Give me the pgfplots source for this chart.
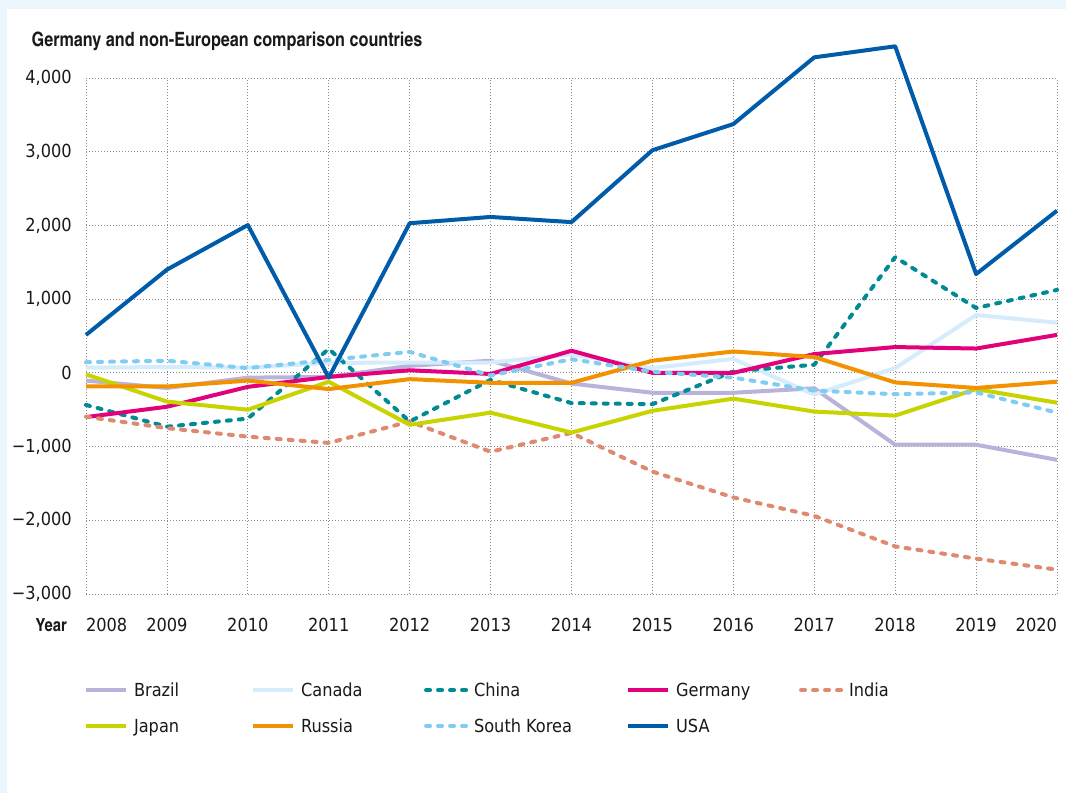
\documentclass[border=0pt]{standalone}
\usepackage{fontspec}
\setmainfont{DejaVu Sans Condensed}
\newfontfamily\titlefont{texgyreheroscn-bold}[Extension=.otf]
\usepackage{pgfplots}
\pgfplotsset{compat=1.18}
\definecolor{bgblue}{HTML}{EAF5FC}
\definecolor{cBrazil}{HTML}{B9B3DB}
\definecolor{cCanada}{HTML}{D4ECFB}
\definecolor{cChina}{HTML}{008B94}
\definecolor{cGermany}{HTML}{E3007B}
\definecolor{cIndia}{HTML}{DE8A70}
\definecolor{cJapan}{HTML}{C8D400}
\definecolor{cRussia}{HTML}{F39200}
\definecolor{cKorea}{HTML}{80CCF2}
\definecolor{cUSA}{HTML}{005CA9}
\newcommand{\lfont}{\fontsize{13.5}{16}\selectfont}
\begin{document}
\begin{tikzpicture}
\begin{scope}[x=0.75pt,y=0.75pt]
\fill[bgblue] (0,0) rectangle (1066,793);
\fill[white] (7,0) rectangle (1066,784);
\useasboundingbox (0,0) rectangle (1066,793);
\node[anchor=base west, font=\titlefont\fontsize{14.8}{17}\selectfont, text=black!90] at (27,746) {Germany and non-European comparison countries};
\node[anchor=base west, font=\titlefont\fontsize{13.5}{15}\selectfont, text=black!90] at (31,162) {Year};
\end{scope}
\begin{axis}[
  at={(64.5pt,149.25pt)}, anchor=south west,
  scale only axis, width=728.25pt, height=387pt,
  xmin=2008, xmax=2020, ymin=-3000, ymax=4000,
  clip=false,
  axis line style={draw=none},
  major tick length=0pt,
  xtick={2008,2009,...,2020},
  xticklabels={\rlap{2008},2009,2010,2011,2012,2013,2014,2015,2016,2017,2018,2019,\llap{2020}},
  ytick={-3000,-2000,...,4000},
  yticklabels={{−3,000},{−2,000},{−1,000},0,{1,000},{2,000},{3,000},{4,000}},
  grid=major,
  major grid style={black!45, line width=0.6pt, dash pattern=on 0.6pt off 1.65pt},
  extra y ticks={0}, extra y tick labels={},
  extra y tick style={grid style={black!85, line width=0.7pt, dash pattern=on 0.7pt off 1.6pt}},
  tick label style={font=\lfont, text=black!90},
  xticklabel style={anchor=north, inner sep=0pt, yshift=-18pt},
  yticklabel style={anchor=east, inner sep=0pt, xshift=-10.5pt},
  every axis plot/.append style={line width=3pt, line join=round},
  legend columns=5,
  legend cell align=left,
  legend style={draw=none, fill=none, at={(-0.002,-0.170)}, anchor=north west,
    inner sep=0pt, outer sep=0pt, column sep=0pt, row sep=14pt,
    nodes={inner sep=0pt, font=\lfont, text=black!90}},
  legend image code/.code={\draw[#1] (0pt,0pt) -- (30pt,0pt);},
  dsh/.style={dash pattern=on 3pt off 6pt, line cap=round},
]
\addplot[cBrazil] coordinates {(2008,-105) (2009,-205) (2010,-65) (2011,-55) (2012,95) (2013,165) (2014,-145) (2015,-270) (2016,-270) (2017,-210) (2018,-975) (2019,-975) (2020,-1180)};
\addlegendentry{\hspace{4.5pt}\makebox[87.75pt][l]{Brazil\strut}}
\addplot[cCanada] coordinates {(2008,70) (2009,80) (2010,70) (2011,135) (2012,140) (2013,140) (2014,250) (2015,65) (2016,190) (2017,-295) (2018,65) (2019,785) (2020,680)};
\addlegendentry{\hspace{4.5pt}\makebox[92.25pt][l]{Canada\strut}}
\addplot[cChina, dsh] coordinates {(2008,-435) (2009,-730) (2010,-620) (2011,325) (2012,-660) (2013,-95) (2014,-410) (2015,-425) (2016,20) (2017,110) (2018,1570) (2019,880) (2020,1125)};
\addlegendentry{\hspace{4.5pt}\makebox[114pt][l]{China\strut}}
\addplot[cGermany] coordinates {(2008,-600) (2009,-460) (2010,-190) (2011,-55) (2012,35) (2013,-15) (2014,300) (2015,0) (2016,0) (2017,255) (2018,350) (2019,330) (2020,515)};
\addlegendentry{\hspace{4.5pt}\makebox[92.25pt][l]{Germany\strut}}
\addplot[cIndia, dsh] coordinates {(2008,-595) (2009,-750) (2010,-865) (2011,-950) (2012,-660) (2013,-1070) (2014,-815) (2015,-1340) (2016,-1690) (2017,-1940) (2018,-2355) (2019,-2520) (2020,-2670)};
\addlegendentry{\hspace{4.5pt}India\strut}
\addplot[cJapan] coordinates {(2008,-20) (2009,-390) (2010,-500) (2011,-120) (2012,-705) (2013,-540) (2014,-810) (2015,-515) (2016,-350) (2017,-525) (2018,-580) (2019,-220) (2020,-405)};
\addlegendentry{\hspace{4.5pt}\makebox[87.75pt][l]{Japan\strut}}
\addplot[cRussia] coordinates {(2008,-185) (2009,-185) (2010,-105) (2011,-220) (2012,-85) (2013,-135) (2014,-135) (2015,165) (2016,290) (2017,215) (2018,-130) (2019,-205) (2020,-120)};
\addlegendentry{\hspace{4.5pt}\makebox[92.25pt][l]{Russia\strut}}
\addplot[cKorea, dsh] coordinates {(2008,145) (2009,165) (2010,65) (2011,175) (2012,285) (2013,-35) (2014,185) (2015,15) (2016,-65) (2017,-240) (2018,-290) (2019,-265) (2020,-540)};
\addlegendentry{\hspace{4.5pt}\makebox[114pt][l]{South Korea\strut}}
\addplot[cUSA] coordinates {(2008,515) (2009,1400) (2010,2005) (2011,-65) (2012,2030) (2013,2115) (2014,2045) (2015,3020) (2016,3375) (2017,4280) (2018,4430) (2019,1340) (2020,2200)};
\addlegendentry{\hspace{4.5pt}\makebox[92.25pt][l]{USA\strut}}
\end{axis}
\end{tikzpicture}
\end{document}
